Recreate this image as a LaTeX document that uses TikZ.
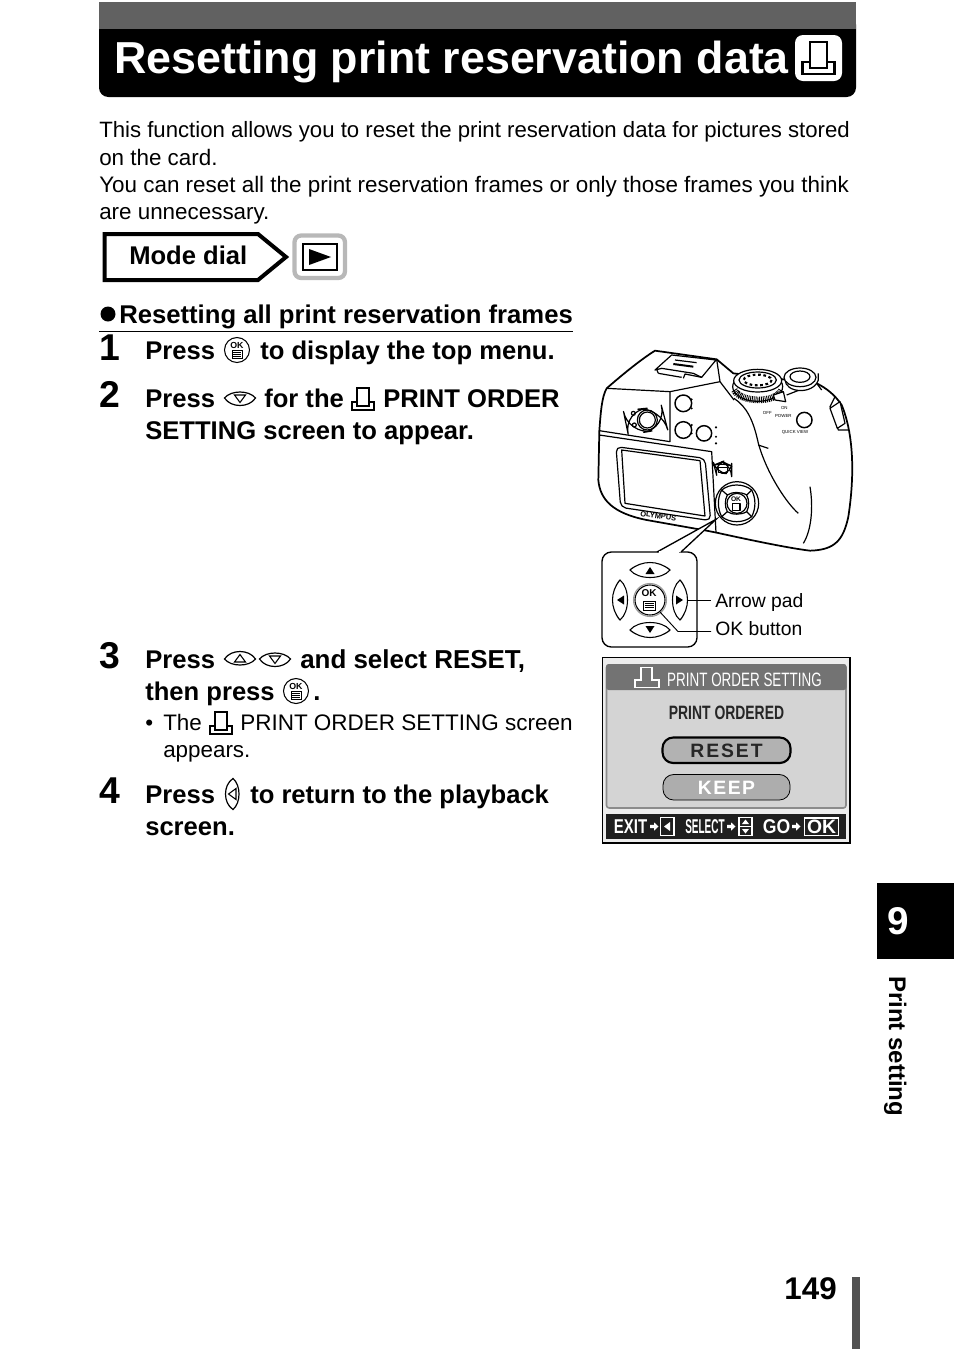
\documentclass[tikz,border=0pt]{standalone}
\usepackage{fontspec}
\usepackage{graphicx}
\setmainfont{Liberation Sans}
\usetikzlibrary{calc}
\newcommand{\nar}[2]{\scalebox{#1}[1]{#2}}
\tikzset{
 body/.style={anchor=base west,inner sep=0,font=\fontsize{16.8pt}{20pt}\selectfont},
 stept/.style={anchor=base west,inner sep=0,font=\fontsize{19.2pt}{22pt}\selectfont\bfseries},
 num/.style={anchor=base west,inner sep=0,font=\fontsize{28pt}{30pt}\selectfont\bfseries},
 captext/.style={anchor=base west,inner sep=0,font=\fontsize{14.5pt}{18pt}\selectfont},
 scrb/.style={inner sep=0,font=\fontsize{14.5pt}{16pt}\selectfont\bfseries},
 cam/.style={line width=0.9pt,line join=round},
 pics/printicon/.style={code={
   \draw[line width=#1,line join=miter,fill=white] (-11,3) rectangle (11,11);
   \draw[line width=#1,line join=miter,fill=white] (-6,-11) rectangle (6,7);
 }},
 pics/okicon/.style={code={
   \draw[line width=0.8pt,fill=white] (0,0) circle (12.5);
   \node[inner sep=0,font=\fontsize{6.6pt}{7pt}\selectfont\bfseries] at (0,-4.5) {OK};
   \draw[line width=0.5pt] (-5,0.5) rectangle (5,8);
   \foreach \yy in {2.4,4.2,6.1}{\draw[line width=0.45pt] (-3.6,\yy) -- (3.6,\yy);}
 }},
 pics/lens/.style={code={
   \draw[line width=0.9pt,fill=white] (-15.5,0) .. controls (-9,-8) and (9,-8) .. (15.5,0) .. controls (9,10) and (-9,10) .. (-15.5,0) -- cycle;
   \draw[line width=0.8pt] (-5.5,-3) -- (5.5,-3) -- (0,4.5) -- cycle;
 }},
 pics/petal/.style={code={
   \draw[line width=2.4pt,color=gray!70] (-19,-30) .. controls (-8,-38) and (8,-38) .. (19,-30);
   \draw[line width=0.8pt,fill=white] (-20,-30) .. controls (-8,-40) and (8,-40) .. (20,-30) .. controls (12,-20) and (-12,-20) .. (-20,-30) -- cycle;
   \fill (-4.5,-26) -- (4.5,-26) -- (0,-33) -- cycle;
 }},
 pics/goarrow/.style={code={
   \fill[white] (-4,-1.7) -- (0,-1.7) -- (0,-4.2) -- (4.5,0) -- (0,4.2) -- (0,1.7) -- (-4,1.7) -- cycle;
 }},
}
\begin{document}
\begin{tikzpicture}[x=0.75pt,y=-0.75pt]
\useasboundingbox (0,0) rectangle (954,1350);
% title bar
\fill[black,rounded corners=7] (99,15) -- (99,97) -- (856,97) -- (856,15) -- cycle;
\fill[black!62] (99,2) -- (856,2) -- (856,29) -- (99,29) -- cycle;
\node[anchor=base west,inner sep=0,text=white,font=\fontsize{33.6pt}{38pt}\selectfont\bfseries] (title) at (114,73) {Resetting print reservation data};
\fill[white,rounded corners=6] (795,35) rectangle (842,81);
\pic[scale=1.45] at (818.5,58) {printicon=1.6pt};
% intro
\node[body,font=\fontsize{16.63pt}{20pt}\selectfont] (p1) at (99,137) {This function allows you to reset the print reservation data for pictures stored};
\node[body] (p2) at (99,165) {on the card.};
\node[body,font=\fontsize{16.82pt}{20pt}\selectfont] (p3) at (99,192) {You can reset all the print reservation frames or only those frames you think};
\node[body] (p4) at (99,219) {are unnecessary.};
% mode dial
\draw[line width=3pt,line join=miter,fill=white] (104.5,234) -- (258,234) -- (286,257) -- (258,280) -- (104.5,280) -- cycle;
\node[anchor=base west,inner sep=0,font=\fontsize{19.2pt}{22pt}\selectfont\bfseries] (md) at (129,264) {Mode dial};
\draw[line width=3.2pt,color=black!28,fill=white,rounded corners=5] (294.5,235.5) rectangle (345,278);
\draw[line width=2pt] (303,244) rectangle (337,270);
\fill (309,249) -- (331,257) -- (309,265) -- cycle;
% heading
\fill (108,314) circle (7.5);
\node[anchor=base west,inner sep=0,font=\fontsize{19.25pt}{22pt}\selectfont\bfseries] (hd) at (119,323) {Resetting all print reservation frames};
\draw[line width=0.7pt] (99,331) -- (573,331);
% step 1
\node[num] (n1) at (99,360) {1};
\node[stept] (s1a) at (145,359) {Press};
\pic at (237,350) {okicon};
\node[stept] (s1b) at (260,359) {to display the top menu.};
% step 2
\node[num] (n2) at (99,407) {2};
\node[stept] (s2a) at (145,407) {Press};
\pic at (240,398) {lens};
\node[stept] (s2b) at (264,407) {for the};
\pic at (363,399) {printicon=0.8pt};
\node[stept] (s2c) at (383,407) {PRINT ORDER};
\node[stept] (s2d) at (145,439) {SETTING screen to appear.};
% step 3
\node[num] (n3) at (99,668) {3};
\node[stept] (s3a) at (145,668) {Press};
\pic[rotate=180] at (240,659) {lens};
\pic at (275,659) {lens};
\node[stept,font=\fontsize{19.45pt}{22pt}\selectfont\bfseries] (s3b) at (300,668) {and select RESET,};
\node[stept] (s3c) at (145,700) {then press};
\pic at (296,691) {okicon};
\node[stept] (s3d) at (313,700) {.};
\node[body] (b3) at (145,730) {•};
\node[body] (b3a) at (163,730) {The};
\pic at (221,723) {printicon=0.8pt};
\node[body,font=\fontsize{16.87pt}{20pt}\selectfont] (b3b) at (240,730) {PRINT ORDER SETTING screen};
\node[body] (b3c) at (163,757) {appears.};
% step 4
\node[num] (n4) at (99,803) {4};
\node[stept] (s4a) at (145,803) {Press};
\pic[rotate=-90] at (233,794) {lens};
\node[stept] (s4b) at (250,803) {to return to the playback};
\node[stept] (s4c) at (145,835) {screen.};
% camera
\begin{scope}[shift={(590,340)},x=0.25pt,y=-0.25pt]
\draw[line width=1.3pt,line join=round,fill=white] (28,272) .. controls (32,220) and (35,170) .. (50,145) .. controls (90,110) and (150,60) .. (195,32) -- (380,58) -- (430,100) -- (680,130) .. controls (710,145) and (735,165) .. (755,195) .. controls (790,280) and (795,400) .. (775,530) .. controls (760,600) and (735,630) .. (660,632) .. controls (600,625) and (480,600) .. (380,578) -- (350,572) -- (170,540) .. controls (70,520) and (30,480) .. (25,420) -- cycle;
\draw[cam] (28,285) -- (365,335) -- (378,578);
\draw[cam] (28,272) -- (240,305) -- (240,155) -- (50,145);
\draw[cam] (240,155) -- (390,125) -- (380,58);
\draw[cam] (390,125) -- (432,180);
\draw[cam] (432,175) .. controls (470,200) and (490,240) .. (505,310) .. controls (530,400) and (590,490) .. (625,520);
\draw[cam] (660,440) .. controls (670,500) and (665,570) .. (640,610);
\draw[cam] (505,315) -- (535,325);
\draw[cam] (590,165) -- (680,130) -- (695,150);
\draw[cam] (735,170) -- (720,200) -- (745,270) -- (775,270);
\draw[cam,fill=white] (720,205) -- (750,185) -- (765,250) -- (742,265) -- cycle;
% hot shoe
\draw[cam,fill=white] (195,90) -- (245,45) -- (378,60) -- (335,112) -- (310,100) -- (215,85) -- cycle;
\draw[cam] (205,100) -- (200,88);
\draw[cam] (280,115) -- (285,102) -- (335,112);
\draw[cam] (205,100) -- (275,112);
\draw[line width=1.5pt] (250,72) -- (310,80);
\draw[cam] (255,60) -- (320,68);
% dial
\draw[cam,fill=white] (503,140) ellipse (75 and 44);
\draw[line width=5pt,dash pattern=on 0.7pt off 0.7pt] (433,150) .. controls (450,187) and (555,192) .. (575,150);
\draw[cam,fill=white] (503,122) ellipse (72 and 34);
\draw[cam] (503,120) ellipse (56 and 24);
\draw[line width=1.6pt,dash pattern=on 2pt off 2pt] (503,120) ellipse (42 and 16);
\draw[cam,fill=white] (550,165) -- (580,155) -- (587,185) -- (555,180) -- cycle;
% shutter
\draw[cam,fill=white] (585,118) .. controls (585,160) and (670,165) .. (685,120) -- (685,100);
\draw[cam,fill=white] (630,112) ellipse (48 and 28);
\draw[cam] (630,110) ellipse (30 and 17);
% buttons
\draw[line width=1.1pt,fill=white] (280,190) circle (25);
\draw[line width=1.1pt,fill=white] (280,270) circle (25);
\draw[line width=1.1pt,fill=white] (342,280) circle (23);
\draw[line width=1.1pt,fill=white] (643,240) circle (23);
\draw[cam,fill=white,rounded corners=8] (397,365) -- (425,378) -- (425,402) -- (378,398) -- (372,375) -- cycle;
\draw[cam] (385,382) rectangle (412,398);
% viewfinder
\draw[cam,rounded corners=18,fill=white] (100,212) -- (215,200) -- (232,265) -- (115,285) -- cycle;
\draw[cam] (172,240) circle (30);
\draw[cam] (172,240) circle (24);
\draw[cam] (130,220) circle (6);
\draw[cam] (133,255) circle (6);
% lcd
\draw[cam,rounded corners=4] (78,320) -- (345,355) -- (362,542) -- (92,502) -- cycle;
\draw[cam] (95,330) -- (330,362) -- (345,528) -- (105,490) -- cycle;
\node[inner sep=0,rotate=-8,font=\fontsize{5.6pt}{7pt}\selectfont\bfseries] (oly) at (205,528) {OLYMPUS};
% small labels
\node[inner sep=0,font=\fontsize{3.3pt}{4pt}\selectfont] (off) at (532,218) {OFF};
\node[inner sep=0,font=\fontsize{3.3pt}{4pt}\selectfont] (on) at (583,205) {ON};
\node[inner sep=0,font=\fontsize{3.3pt}{4pt}\selectfont] (pow) at (580,228) {POWER};
\node[inner sep=0,font=\fontsize{3.3pt}{4pt}\selectfont] (qv) at (615,278) {QUICK VIEW};
\foreach \p/\q in {305/178,305/205,305/255,305/280,378/262,378/290,378/310}{\fill (\p,\q) circle (3.5);}
% pad on camera
\coordinate (cpc) at (441,490);
\draw[cam,fill=white] (cpc) circle (65);
\draw[cam,fill=white] (cpc) circle (30);
\draw[cam] (395,450) .. controls (420,430) and (460,430) .. (485,450) -- (470,465) .. controls (455,455) and (425,455) .. (412,465) -- cycle;
\draw[cam] (395,530) .. controls (420,550) and (460,550) .. (485,530) -- (470,515) .. controls (455,525) and (425,525) .. (412,515) -- cycle;
\draw[cam] (395,450) .. controls (382,475) and (382,505) .. (395,530);
\draw[cam] (412,465) .. controls (404,480) and (404,500) .. (412,515);
\draw[cam] (485,450) .. controls (498,475) and (498,505) .. (485,530);
\draw[cam] (470,465) .. controls (478,480) and (478,500) .. (470,515);
\node[inner sep=0,font=\fontsize{5pt}{6pt}\selectfont\bfseries] (okc) at (438,478) {OK};
\draw[cam] (428,490) rectangle (450,512);
\coordinate (tip) at (378,538);
\end{scope}
% callout
\coordinate (c1) at (657,552);
\coordinate (c2) at (681,552);
\draw[line width=1pt,fill=white,rounded corners=7] (602,552) rectangle (697,647);
\fill[white] (c1) -- (c2) -- (tip) -- cycle;
\draw[line width=1pt] (c1) -- (tip) -- (c2);
\fill[white] (659,551) rectangle (679,554);
% pad
\coordinate (pc) at (650,600);
\pic at (pc) {petal};
\pic[rotate=90] at (pc) {petal};
\pic[rotate=180] at (pc) {petal};
\pic[rotate=270] at (pc) {petal};
\draw[line width=0.8pt,color=gray!80] (pc) circle (16.5);
\draw[line width=0.8pt] (pc) circle (15);
\node[inner sep=0,font=\fontsize{7.5pt}{8pt}\selectfont\bfseries] (okt) at (649,593.5) {OK};
\draw[line width=0.6pt] (643,601) rectangle (655,610);
\foreach \yy in {603,605.2,607.5}{\draw[line width=0.5pt] (644.5,\yy) -- (653.5,\yy);}
\coordinate (lr) at (688,600);
\coordinate (lk) at (660,612);
\node[captext] (ap) at (715,607) {Arrow pad};
\node[captext] (ob) at (715,635) {OK button};
\draw[line width=0.7pt] (lr) -- (711,600);
\draw[line width=0.7pt] (lk) -- (678,631.5) -- (711,631.5);
% screen
\draw[line width=0.8pt,fill=black!7] (602.5,657.5) rectangle (850,843);
\draw[line width=1.2pt,color=black!45,fill=black!17,rounded corners=2] (606.5,665) rectangle (846,808);
\fill[black!55,rounded corners=2] (606,664) rectangle (846.5,690);
\draw[white,line width=1pt] (635,680) -- (635,687.5) -- (659,687.5) -- (659,680) -- (652,680) -- (652,667.5) -- (641,667.5) -- (641,680) -- cycle;
\node[inner sep=0,text=white,font=\fontsize{14.5pt}{16pt}\selectfont] (sh) at (744.5,679.5) {\nar{0.695}{PRINT ORDER SETTING}};
\node[inner sep=0,text=black!85,font=\fontsize{14.5pt}{16pt}\selectfont\bfseries] (so) at (726.5,713) {\nar{0.72}{PRINT ORDERED}};
\draw[line width=1.6pt,fill=black!30,rounded corners=8] (662.5,737.5) rectangle (790.5,763);
\node[scrb,text=black!85] (rs) at (726.5,750.5) {\addfontfeatures{LetterSpace=10}RESET};
\draw[line width=0.6pt,fill=black!32,rounded corners=8] (663,774.5) rectangle (790,800);
\node[scrb,text=white] (kp) at (726.5,787.5) {\addfontfeatures{LetterSpace=8}KEEP};
\fill[black!88] (606,814) rectangle (846,839);
\node[inner sep=0,text=white,font=\fontsize{15pt}{16pt}\selectfont\bfseries] (ex) at (630.5,827) {\nar{0.75}{EXIT}};
\pic at (654,826.5) {goarrow};
\draw[white,line width=0.8pt] (660.5,817.5) rectangle (674,835.5);
\fill[white] (670,822) -- (670,831) -- (664,826.5) -- cycle;
\node[inner sep=0,text=white,font=\fontsize{15pt}{16pt}\selectfont\bfseries] (se) at (705,827) {\nar{0.5}{SELECT}};
\pic at (731,826.5) {goarrow};
\draw[white,line width=0.8pt] (739,817.5) rectangle (752,835.5) (739,826.5) -- (752,826.5);
\fill[white] (742,824) -- (749,824) -- (745.5,819.5) -- cycle (742,829) -- (749,829) -- (745.5,833.5) -- cycle;
\node[inner sep=0,text=white,font=\fontsize{15pt}{16pt}\selectfont\bfseries] (go) at (776.5,827) {\nar{0.88}{GO}};
\pic at (796,826.5) {goarrow};
\draw[white,line width=0.9pt] (804.5,818) rectangle (838.5,835.5);
\node[inner sep=0,text=white,font=\fontsize{14.5pt}{16pt}\selectfont\bfseries] (okb) at (821.5,827) {OK};
% tab
\fill[black] (877,883) rectangle (954,959);
\node[inner sep=0,text=white,font=\fontsize{29pt}{30pt}\selectfont\bfseries] (nine) at (898,921.5) {9};
\node[inner sep=0,rotate=-90,anchor=base west,font=\fontsize{18pt}{20pt}\selectfont\bfseries] (side) at (889,976) {Print setting};
% page number
\node[anchor=base east,inner sep=0,font=\fontsize{23.5pt}{26pt}\selectfont\bfseries] (pg) at (837,1299) {149};
\fill[black!68] (852,1277) rectangle (860,1349);
\end{tikzpicture}
\end{document}
